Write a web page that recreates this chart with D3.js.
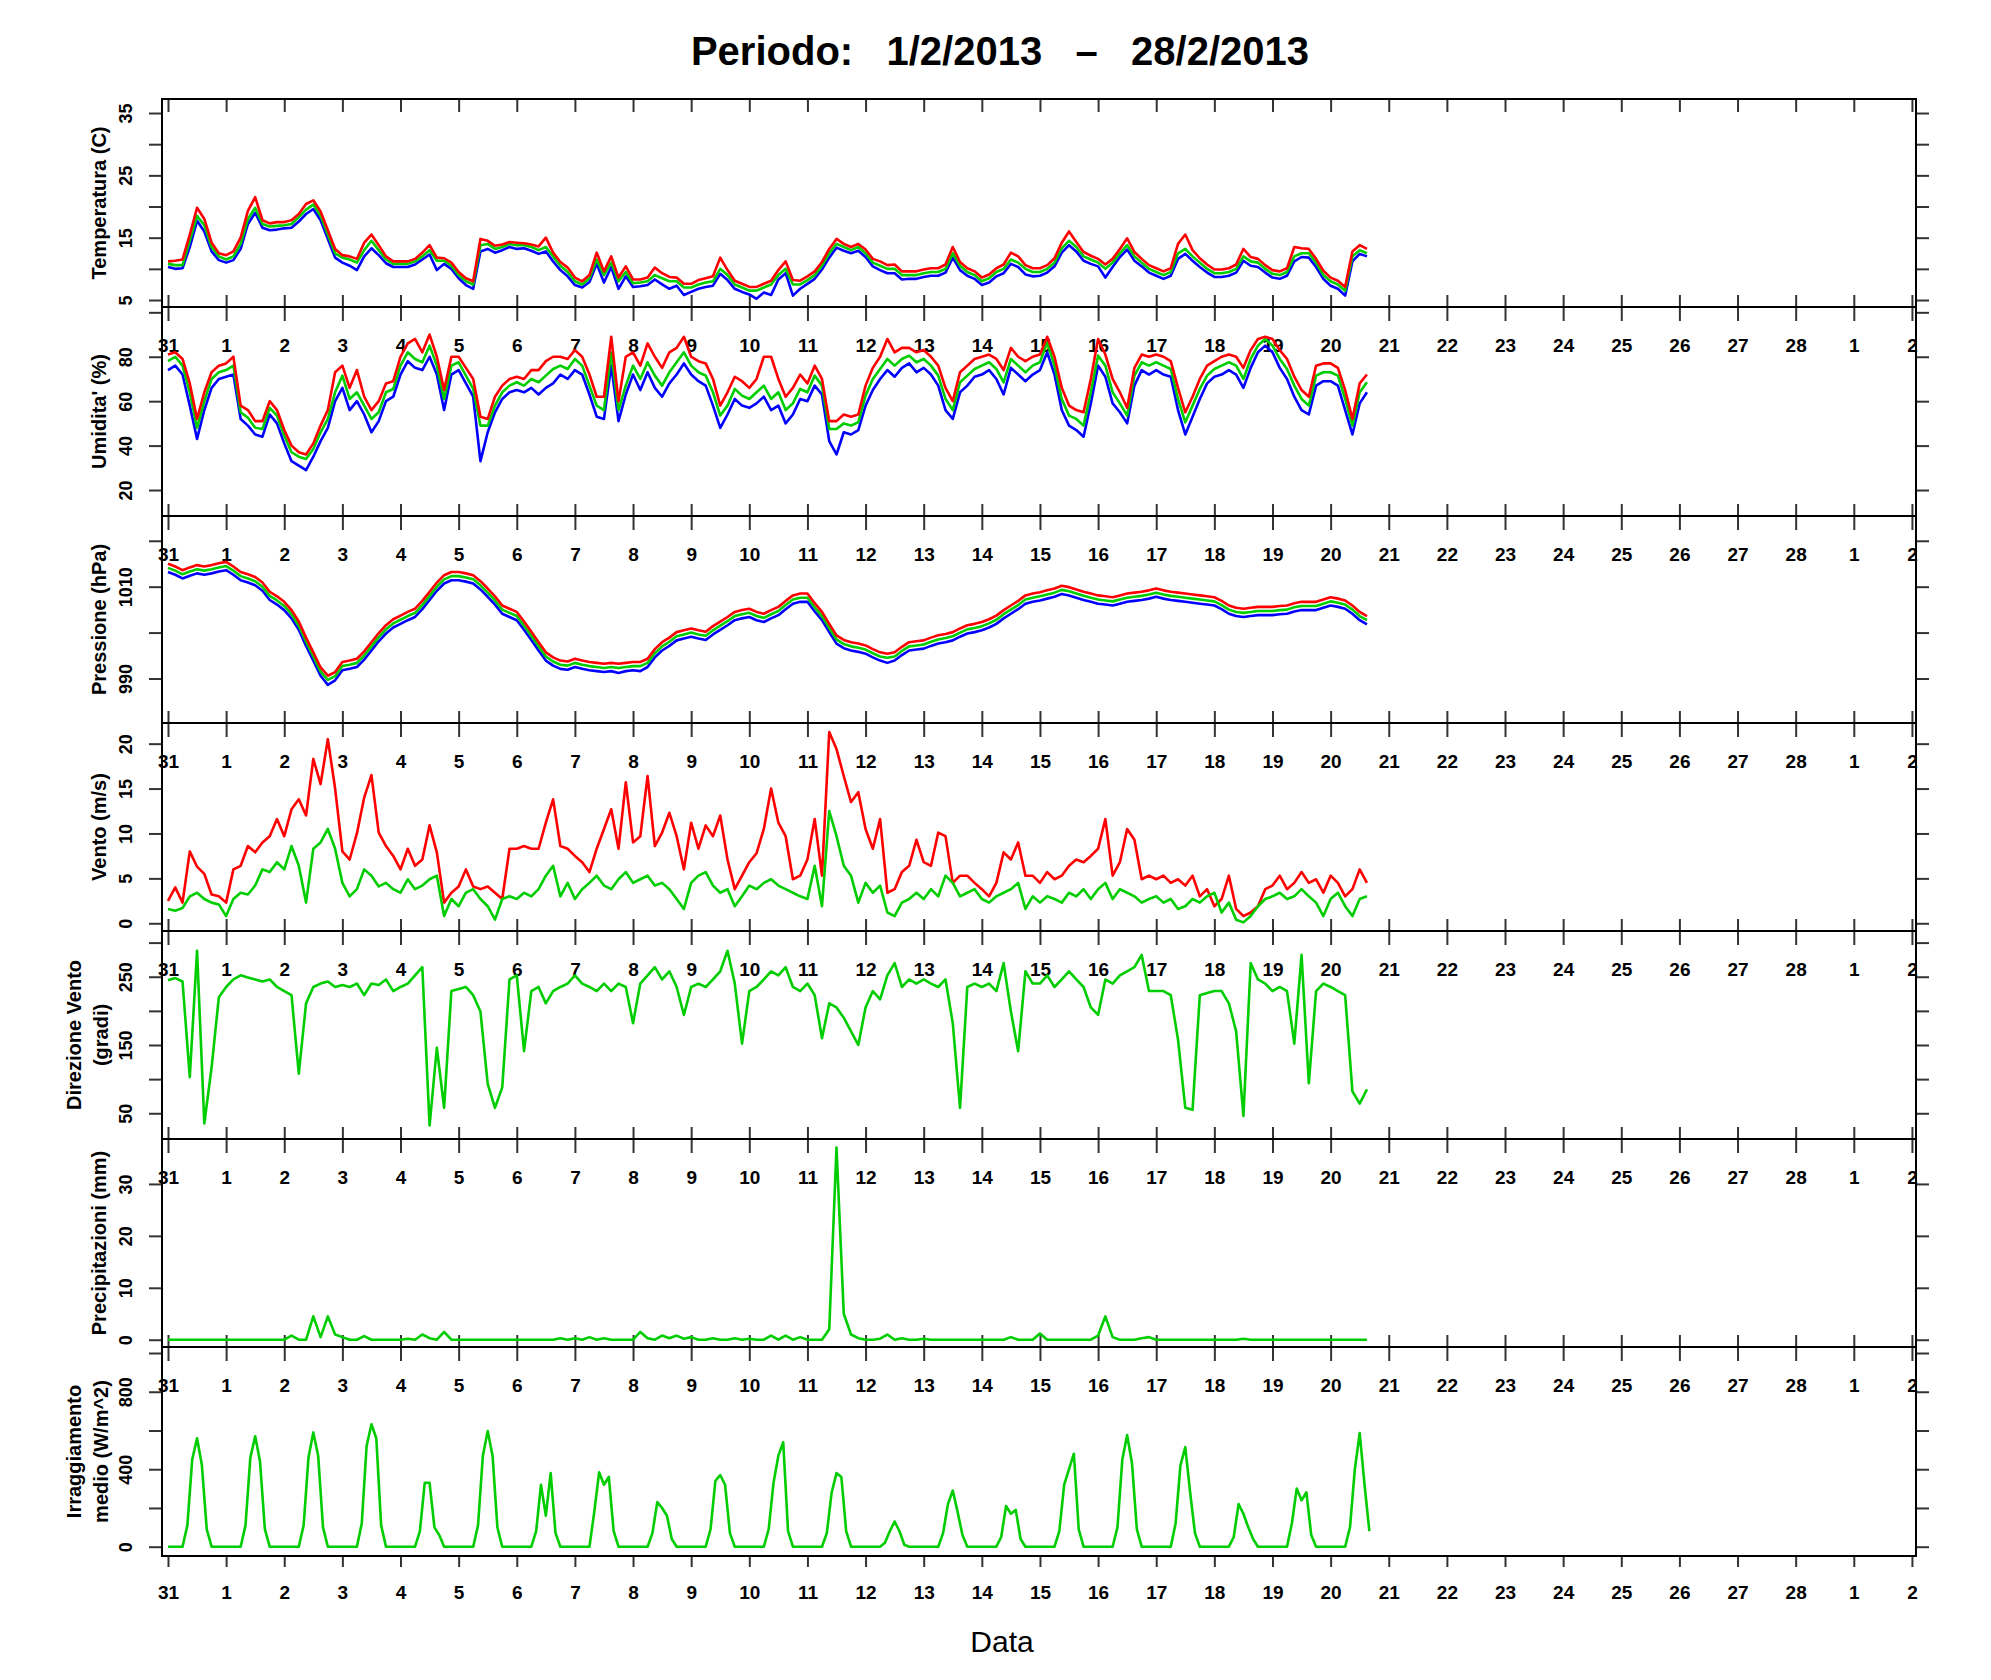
<!DOCTYPE html>
<html>
<head>
<meta charset="utf-8">
<script src="https://cdn.jsdelivr.net/npm/d3@7"></script>
<style>
body { margin: 0; background: #fff; }
text { font-family: "Liberation Sans", Arial, Helvetica, sans-serif; }
</style>
</head>
<body>
<script>
// giorni sull'asse x (31 gen -> 2 mar)
const dayLabels = ["31","1","2","3","4","5","6","7","8","9","10","11","12","13","14","15","16","17","18","19","20","21","22","23","24","25","26","27","28","1","2"];

// campioni ogni 3 ore a partire dal 31/1 00:00
const tempMax = [
 11.2,11.3,11.5,15.5,19.8,18,14.2,12.5,  12.2,12.8,15,19.3,21.5,17.8,17.3,17.5,
 17.5,17.8,18.8,20.4,21,19.2,16.2,13.2,  12.2,12,11.6,14.2,15.5,13.8,12,11.2,
 11.2,11.2,11.6,12.6,13.8,11.8,11.7,11,  9.5,8.5,8,14.8,14.5,13.7,13.9,14.3,
 14.2,14.1,13.9,13.6,15,12.6,11.1,10.2,  8.6,8,9,12.6,9.6,12,8.6,10.4,
 8.3,8.3,8.6,10.2,9.3,8.7,8.6,7.6,  7.6,8.2,8.5,8.8,11.8,9.8,8.1,7.6,
 7.1,7.1,7.6,8.1,9.8,11.2,8.2,8.1,  8.8,9.6,11.1,13.2,14.8,14,13.5,14,
 13.1,11.6,11.2,10.6,10.7,9.6,9.6,9.6,  9.9,10.1,10.1,10.7,13.5,11.1,10.1,9.6,
 8.6,9.1,10.1,10.7,12.6,12,10.6,10.1,  10.1,10.6,11.7,14.2,16,14.3,12.7,12.1,
 11.6,10.7,11.6,13.2,14.9,12.7,11.6,10.6,  10.1,9.6,10.1,14,15.5,13,11.7,10.7,
 9.9,9.9,10.1,10.7,13.2,11.9,11.6,10.6,  9.8,9.6,10.1,13.5,13.3,13.2,11.6,9.7,
 8.6,8.1,7.1,12.8,13.8,13.2
];
const tempMean = [
 10.8,10.6,10.6,14.5,18.5,17,13.5,12,  11.5,12,14,18,19.8,17.2,16.8,16.9,
 17,17.2,18.3,19.5,20.3,18.5,15.5,12.5,  11.8,11.5,11,13,14.5,13,11.5,10.8,
 10.8,10.8,11.2,12,13,11.3,11.3,10.5,  9,8,7.5,13.8,14,13.2,13.5,14,
 13.8,13.8,13.5,13,13.5,12,10.5,9.5,  8,7.5,8.5,11.5,9,11,8,9.5,
 7.7,7.8,8,9,8.5,8,8,7,  7,7.5,7.8,8,10,9,7.5,7,
 6.5,6.5,7,7.5,9,10,7.5,7.5,  8.2,9,10.5,12.5,14,13.5,13,13.5,
 12.5,11,10.5,10,10,9,9,9,  9.3,9.5,9.5,10,12.5,10.5,9.5,9,
 8,8.5,9.5,10,11.5,11,10,9.5,  9.5,10,11,13.3,14.5,13.5,12,11.5,
 11,10,11,12.5,13.8,12,11,10,  9.5,9,9.5,12.5,13.2,12,11,10,
 9.3,9.3,9.5,10,12,11.2,11,10,  9.2,9,9.5,12,12.5,12.5,11,9,
 8,7.5,6.5,12,13,12.5
];
const tempMin = [
 10.3,10,10.1,13.5,17.7,16,12.8,11.4,  11,11.4,13.2,17.2,19,16.6,16.2,16.3,
 16.5,16.6,17.6,18.8,19.6,17.8,14.8,11.8,  11,10.5,9.8,12,13.3,12.2,10.9,10.3,
 10.3,10.3,10.7,11.5,12.3,9.8,10.8,10,  8.5,7.4,6.8,12.8,13.2,12.6,13,13.5,
 13.2,13.3,12.9,12.4,12.8,11.2,9.8,8.8,  7.4,7,7.9,10.8,7.8,10.3,6.8,8.8,
 7.1,7.2,7.4,8.3,7.5,6.8,7.3,5.8,  6.3,6.8,7.1,7.3,9.2,8.2,6.8,6.3,
 5.9,5.2,6.2,5.8,8.3,9.3,5.7,6.8,  7.6,8.4,9.9,11.8,13.4,12.9,12.5,12.9,
 11.9,10.4,9.8,9.3,9.3,8.3,8.4,8.4,  8.7,8.9,8.9,9.4,11.8,9.8,8.9,8.4,
 7.4,7.8,8.8,9.3,10.8,10.3,9.1,8.8,  8.9,9.4,10.4,12.6,13.8,12.8,11.3,10.8,
 10.4,8.6,10.3,11.9,13.1,11.3,10.4,9.4,  8.9,8.4,8.9,11.6,12.4,11.3,10.3,9.4,
 8.7,8.7,8.9,9.4,11.3,10.5,10.3,9.4,  8.6,8.4,8.9,11.2,11.9,11.8,10.3,8.4,
 7.3,6.8,5.7,11.2,12.4,12
];

const humMax = [
 81,82,79,68,52,64,73,76,  77,80,58,56,51,51,60,56,
 47,40,37,36,41,49,56,73,  76,66,74,62,56,60,68,69,
 80,86,88,82,90,80,65,80,  80,75,70,53,52,62,67,70,
 71,70,74,74,78,80,80,79,  83,80,72,62,62,89,60,80,
 82,76,86,80,75,82,84,89,  80,78,77,70,58,64,71,69,
 66,70,80,80,70,62,66,72,  68,76,70,51,51,54,53,54,
 67,75,80,88,82,84,84,82,  83,80,76,66,60,73,76,79,
 80,81,79,74,84,80,78,80,  81,89,80,66,58,56,55,70,
 88,81,70,64,57,75,81,80,  81,80,78,66,55,62,70,76,
 78,80,81,80,75,83,88,89,  88,83,79,71,65,62,76,77,
 77,75,65,52,68,72
];
const humMean = [
 78,80,76,64,48,60,70,73,  74,76,55,52.5,48,47.5,57,53.5,
 44.5,37,35,34,38.5,46,52,64,  71.5,61,64,58,52,55,64,65.5,
 76,82,79,77.5,85,76,61,76,  77.5,71.5,65.5,49,49,58,64,67,
 68.5,67,70,68.5,71.5,74.5,76,74.5,  79,76,67,58,56,82,56,67,
 76,70,77.5,71.5,67,73,77.5,82,  76,73,71.5,64,53.5,58,65.5,62.5,
 61,64,67,61,64,56,59,65.5,  64,71.5,67,47.5,47.5,50,49,50.5,
 62.5,70,74.5,79,76,79,80.5,77.5,  79,76,71.5,61,56,68.5,71.5,74.5,
 76,77.5,74.5,68.5,79,76,73,76,  77.5,86.5,76,61,53.5,52,49,64,
 80.5,76,64,59,53.5,71.5,77.5,76,  77.5,76,74.5,61,50.5,58,65.5,71.5,
 74.5,76,77.5,76,70,79,85,88,  85,79,74.5,67,61,58,71.5,73,
 73,71.5,61,49,64,68.5
];
const humMin = [
 74,76,72,58,43,56,66,70,  71,72,52,49,45,44,54,50,
 41,33,31,29,35,42,48,60,  66,56,60,54,46,51,60,62,
 72,78,75,74,80,72,56,72,  74,68,62,33,46,55,61,64,
 65,64,66,63,66,68,72,70,  74,72,63,53,52,76,51,63,
 72,65,73,66,62,68,72,77,  72,69,67,58,48,54,61,58,
 57,59,62,56,58,50,54,61,  60,67,63,42,36,46,45,47,
 58,65,70,74,71,75,77,73,  75,72,67,56,52,64,67,71,
 72,74,70,63,75,72,69,72,  74,82,72,56,49,47,44,59,
 76,71,59,55,50,67,74,72,  74,72,71,56,45,53,61,68,
 71,72,74,72,66,75,82,85,  82,75,70,62,56,54,67,69,
 69,67,56,45,59,64
];

const presMax = [
 1015,1014.4,1013.6,1014.2,1014.7,1014.4,1014.7,1015.1,  1015.4,1014.4,1013.2,1012.7,1012.1,1010.9,1008.9,1007.9,
 1006.7,1004.9,1002.4,998.9,995.7,992.4,990.6,991.4,  993.6,993.9,994.3,995.9,997.9,999.9,1001.6,1002.9,
 1003.7,1004.5,1005.2,1006.9,1008.9,1010.9,1012.5,1013.2,  1013.2,1012.9,1012.5,1011.2,1009.6,1007.9,1005.9,1005.2,
 1004.5,1002.4,1000.2,997.9,995.7,994.6,993.9,993.7,  994.3,993.9,993.6,993.4,993.2,993.4,993.2,993.4,
 993.6,993.6,994.3,996.4,997.9,998.9,1000.1,1000.5,  1000.9,1000.5,1000.2,1001.4,1002.4,1003.4,1004.5,1004.9,
 1005.2,1004.5,1004.1,1004.9,1005.6,1006.9,1008.1,1008.5,  1008.5,1006.4,1004.5,1001.9,999.4,998.4,997.9,997.6,
 997.2,996.4,995.7,995.4,995.7,996.9,997.9,998.1,  998.3,998.9,999.4,999.7,1000.1,1000.9,1001.6,1001.9,
 1002.3,1002.9,1003.7,1004.9,1005.9,1006.9,1008.1,1008.5,  1008.8,1009.2,1009.6,1010.2,1009.9,1009.4,1008.9,1008.5,
 1008.1,1007.9,1007.7,1008.1,1008.5,1008.7,1008.9,1009.2,  1009.6,1009.2,1008.9,1008.7,1008.5,1008.3,1008.1,1007.9,
 1007.7,1006.9,1005.9,1005.4,1005.2,1005.4,1005.6,1005.6,  1005.6,1005.8,1005.9,1006.4,1006.7,1006.7,1006.7,1007.2,
 1007.7,1007.4,1007,1005.9,1004.5,1003.6
];
const presMean = [
 1014.1,1013.5,1012.7,1013.3,1013.8,1013.5,1013.8,1014.2,  1014.5,1013.5,1012.3,1011.8,1011.2,1010,1008,1007,
 1005.8,1004,1001.5,998,994.8,991.5,989.7,990.5,  992.7,993,993.4,995,997,999,1000.7,1002,
 1002.8,1003.6,1004.3,1006,1008,1010,1011.6,1012.3,  1012.3,1012,1011.6,1010.3,1008.7,1007,1005,1004.3,
 1003.6,1001.5,999.3,997,994.8,993.7,993,992.8,  993.4,993,992.7,992.5,992.3,992.5,992.3,992.5,
 992.7,992.7,993.4,995.5,997,998,999.2,999.6,  1000,999.6,999.3,1000.5,1001.5,1002.5,1003.6,1004,
 1004.3,1003.6,1003.2,1004,1004.7,1006,1007.2,1007.6,  1007.6,1005.5,1003.6,1001,998.5,997.5,997,996.7,
 996.3,995.5,994.8,994.5,994.8,996,997,997.2,  997.4,998,998.5,998.8,999.2,1000,1000.7,1001,
 1001.4,1002,1002.8,1004,1005,1006,1007.2,1007.6,  1007.9,1008.3,1008.7,1009.3,1009,1008.5,1008,1007.6,
 1007.2,1007,1006.8,1007.2,1007.6,1007.8,1008,1008.3,  1008.7,1008.3,1008,1007.8,1007.6,1007.4,1007.2,1007,
 1006.8,1006,1005,1004.5,1004.3,1004.5,1004.7,1004.7,  1004.7,1004.9,1005,1005.5,1005.8,1005.8,1005.8,1006.3,
 1006.8,1006.5,1006.1,1005,1003.6,1002.7
];
const presMin = [
 1013.2,1012.6,1011.8,1012.4,1012.9,1012.6,1012.9,1013.3,  1013.6,1012.6,1011.4,1010.9,1010.3,1009.1,1007.1,1006.1,
 1004.9,1003.1,1000.6,997.1,993.9,990.6,988.6,989.6,  991.8,992.1,992.5,994.1,996.1,998.1,999.8,1001.1,
 1001.9,1002.7,1003.4,1005.1,1007.1,1009.1,1010.7,1011.4,  1011.4,1011.1,1010.7,1009.4,1007.8,1006.1,1004.1,1003.4,
 1002.7,1000.6,998.4,996.1,993.9,992.8,992.1,991.9,  992.5,992.1,991.8,991.6,991.4,991.6,991.2,991.6,
 991.8,991.6,992.5,994.6,996.1,997.1,998.3,998.7,  999.1,998.7,998.4,999.6,1000.6,1001.6,1002.7,1003.1,
 1003.4,1002.7,1002.3,1003.1,1003.8,1005.1,1006.3,1006.7,  1006.7,1004.6,1002.7,1000.1,997.6,996.6,996.1,995.8,
 995.4,994.6,993.9,993.4,993.9,995.1,996.1,996.3,  996.5,997.1,997.6,997.9,998.3,999.1,999.8,1000.1,
 1000.5,1001.1,1001.9,1003.1,1004.1,1005.1,1006.3,1006.7,  1007,1007.4,1007.8,1008.4,1008.1,1007.6,1007.1,1006.7,
 1006.3,1006.1,1005.9,1006.3,1006.7,1006.9,1007.1,1007.4,  1007.8,1007.4,1007.1,1006.9,1006.7,1006.5,1006.3,1006.1,
 1005.9,1005.1,1004.1,1003.6,1003.4,1003.6,1003.8,1003.8,  1003.8,1004,1004.1,1004.6,1004.9,1004.9,1004.9,1005.4,
 1005.9,1005.6,1005.2,1004.1,1002.7,1001.8
];

const windGust = [
 2.5,4,2.3,8,6.3,5.5,3.2,3,  2.3,6,6.4,8.6,7.9,9,9.7,11.6,
 9.7,12.7,13.8,12,18.3,15.5,20.5,15,  8,7.1,10,14,16.5,10.1,8.6,7.5,
 6,8.3,6.4,7.1,10.9,7.9,2.3,3.4,  4.1,6,4.1,3.8,4.1,3.4,2.7,8.3,
 8.3,8.6,8.3,8.3,11.2,13.8,8.6,8.3,  7.5,6.8,5.7,8.3,10.5,12.7,8.3,15.7,
 9,9.7,16.4,8.6,10.1,12.3,9.7,6,  11.2,8.3,10.9,9.7,12,7.1,3.8,5.3,
 6.8,7.8,10.5,15,11.2,9.7,4.9,5.3,  7.1,11.6,5.3,21.3,19.4,16.4,13.5,14.6,
 10.5,8.3,11.6,3.4,3.8,5.7,6.4,9.3,  6.8,6.4,10.1,9.7,4.5,5.3,5.3,4.5,
 3.8,3,4.5,7.9,7.1,9,5.3,5.3,  4.5,5.7,4.9,5.3,6.4,7.1,6.8,7.5,
 8.3,11.6,5.3,6.8,10.5,9.3,4.9,5.3,  4.9,5.3,4.5,4.9,4.2,5.3,3,3.8,
 1.9,2.7,5.3,1.6,0.8,1.2,1.9,3.8,  4.2,5.3,3.8,4.5,5.7,4.5,4.9,3.4,
 5.3,4.5,3,3.8,6,4.5
];
const windMean = [
 1.6,1.4,1.7,3,3.4,2.7,2.3,2.1,  0.8,2.7,3.4,3.2,4.2,6,5.7,6.8,
 6,8.6,6.4,2.3,8.3,9,10.5,8.3,  4.5,3,3.8,6,5.3,4.1,4.5,3.8,
 3.4,4.9,3.8,4.2,4.9,5.3,0.8,2.7,  1.9,3.4,3.8,2.7,1.9,0.4,2.7,3,
 2.7,3.4,3,3.8,5.3,6.4,3,4.5,  2.7,3.8,4.5,5.3,4.2,3.8,4.9,5.7,
 4.5,4.9,5.3,4.2,4.5,3.8,2.7,1.6,  4.5,5.3,5.7,4.2,3.4,3.8,1.9,3,
 4.2,3.8,4.5,4.9,4.2,3.8,3.4,3,  2.7,6.4,1.9,12.5,9.7,6.4,5.3,2.3,
 4.5,3.4,4.2,1.2,0.8,2.3,2.7,3.4,  2.7,3.8,3,5.3,4.5,3,3.4,3.8,
 2.7,2.3,3,3.4,3.8,4.5,1.6,3,  2.3,3,2.7,2.3,3.4,3,3.8,2.7,
 3.8,4.5,2.7,3.8,3.4,3,2.3,2.7,  3,2.3,2.7,1.6,1.9,2.7,2.3,3,
 3.4,1.2,2.3,0.4,0.1,0.8,1.9,2.7,  3,3.4,2.7,3,3.8,3,2.3,0.8,
 2.7,3.4,1.9,0.8,2.7,3
];

const windDir = [
 245,248,243,103,288,35,117,220,  235,246,252,249,246,243,246,235,
 229,223,108,211,235,240,243,235,  238,235,240,223,240,238,246,229,
 235,240,252,264,32,146,58,229,  232,235,223,199,93,58,88,246,
 252,141,229,235,211,229,235,240,  252,240,235,229,240,229,240,235,
 182,240,252,264,246,258,235,194,  235,240,235,246,258,288,240,152,
 229,235,246,258,252,264,235,229,  240,223,160,211,205,190,170,150,
 205,229,217,252,270,235,246,240,  246,240,235,246,182,58,235,240,
 235,240,229,270,199,141,258,240,  240,252,235,246,258,246,235,205,
 194,246,240,252,258,264,282,229,  229,229,223,158,58,55,223,226,
 229,229,211,170,46,270,246,240,  229,235,229,152,282,94,229,240,
 235,229,223,82,64,85
];

const rain = [
 0,0,0,0,0,0,0,0,  0,0,0,0,0,0,0,0,
 0,0.8,0,0,4.5,0.5,4.5,1,  0.5,0,0,0.7,0,0,0,0,
 0,0.2,0,1,0.3,0,1.5,0,  0,0,0,0,0,0,0,0,
 0,0,0,0,0,0,0.3,0,  0.3,0,0.5,0,0.3,0,0,0,
 0,1.5,0.3,0,0.8,0.3,0.8,0.2,  0.5,0,0,0.3,0,0,0.3,0,
 0.2,0,0,0.8,0,0.8,0,0.5,  0,0,0,2,37,5,1,0.3,
 0,0,0.2,1,0,0.3,0,0,  0.2,0,0,0,0,0,0,0,
 0,0,0,0,0.5,0,0,0,  1.2,0,0,0,0,0,0,0,
 0.8,4.5,0.5,0,0,0,0.3,0.5,  0,0,0,0,0,0,0,0,
 0,0,0,0,0.2,0,0,0,  0,0,0,0,0,0,0,0,
 0,0,0,0,0,0
];

// irraggiamento: campioni ogni 2 ore
const radiation = [
 0,0,0,0,110,450,560,420,90,0,0,0,
 0,0,0,0,110,460,570,440,90,0,0,0,
 0,0,0,0,110,460,590,470,100,0,0,0,
 0,0,0,0,120,520,632,560,110,0,0,0,
 0,0,0,0,80,330,330,100,60,0,0,0,
 0,0,0,0,110,470,597,470,100,0,0,0,
 0,0,0,0,80,320,160,380,70,0,0,0,
 0,0,0,0,180,384,320,360,80,0,0,0,
 0,0,0,0,70,230,200,160,40,0,0,0,
 0,0,0,0,90,340,370,320,70,0,0,0,
 0,0,0,0,90,330,470,540,80,0,0,0,
 0,0,0,0,70,280,380,360,80,0,0,0,
 0,0,0,0,20,80,130,80,10,0,0,0,
 0,0,0,0,70,220,290,180,60,0,0,0,
 0,0,0,0,50,210,170,190,40,0,0,0,
 0,0,0,0,80,320,400,480,90,0,0,0,
 0,0,0,0,100,450,576,430,90,0,0,0,
 0,0,0,0,120,420,514,280,70,0,0,0,
 0,0,0,0,50,220,170,100,40,0,0,0,
 0,0,0,0,120,300,240,280,60,0,0,0,
 0,0,0,0,100,400,587,320,80
];

const RED = '#ff0000', GREEN = '#00cd00', BLUE = '#0000ff';

const panels = [
  { title: ['Temperatura (C)'], domain: [3.88, 37.25], ticks: [5,10,15,20,25,30,35], labels: [5,15,25,35],
    series: [[tempMin, BLUE], [tempMean, GREEN], [tempMax, RED]], step: 3 },
  { title: ["Umidita' (%)"], domain: [8.3, 102.4], ticks: [20,40,60,80,100], labels: [20,40,60,80],
    series: [[humMin, BLUE], [humMean, GREEN], [humMax, RED]], step: 3 },
  { title: ['Pressione (hPa)'], domain: [980.3, 1025.4], ticks: [990,1000,1010,1020], labels: [990,1010],
    series: [[presMin, BLUE], [presMean, GREEN], [presMax, RED]], step: 3 },
  { title: ['Vento (m/s)'], domain: [-0.86, 22.3], ticks: [0,5,10,15,20], labels: [0,5,10,15,20],
    series: [[windGust, RED], [windMean, GREEN]], step: 3 },
  { title: ['Direzione Vento', '(gradi)'], domain: [12.3, 317], ticks: [50,100,150,200,250,300], labels: [50,150,250],
    series: [[windDir, GREEN]], step: 3 },
  { title: ['Precipitazioni (mm)'], domain: [-1.4, 38.65], ticks: [0,10,20,30], labels: [0,10,20,30],
    series: [[rain, GREEN]], step: 3 },
  { title: ['Irraggiamento', 'medio (W/m^2)'], domain: [-48, 1031], ticks: [0,200,400,600,800,1000], labels: [0,400,800],
    series: [[radiation, GREEN]], step: 2 }
];

const W = 1991, H = 1680;
const left = 162, right = 1916;
const edges = [99, 307, 516, 723, 931, 1139, 1347, 1556];

const svg = d3.select('body').append('svg')
    .attr('width', W)
    .attr('height', H);

// giorni dal 31/1 00:00
const x = d3.scaleLinear().domain([-0.103, 30.07]).range([left, right]);
const dayIdx = d3.range(dayLabels.length);

function styleAxis(g, size) {
  g.select('.domain').remove();
  g.selectAll('.tick line').attr('stroke', '#333').attr('stroke-width', 2);
  g.selectAll('.tick text')
    .attr('fill', '#000')
    .attr('font-size', size)
    .attr('font-weight', 'bold')
    .attr('font-family', '"Liberation Sans", Arial, sans-serif');
}

const axesLayer = svg.append('g');
const dataLayer = svg.append('g');
const frameLayer = svg.append('g');

panels.forEach((p, k) => {
  const top = edges[k], bottom = edges[k + 1];
  const y = d3.scaleLinear().domain(p.domain).range([bottom, top]);

  // asse y sinistro, etichette ruotate
  const gl = axesLayer.append('g')
      .attr('transform', `translate(${left},0)`)
      .call(d3.axisLeft(y).tickValues(p.ticks).tickSize(13)
              .tickFormat(d => p.labels.includes(d) ? d : ''));
  styleAxis(gl, 18);
  gl.selectAll('.tick text')
      .attr('transform', 'rotate(-90)')
      .attr('x', 0)
      .attr('y', -30)
      .attr('dy', null)
      .attr('text-anchor', 'middle');

  // asse y destro senza etichette
  const gr = axesLayer.append('g')
      .attr('transform', `translate(${right},0)`)
      .call(d3.axisRight(y).tickValues(p.ticks).tickSize(13).tickFormat(''));
  styleAxis(gr, 18);

  // titolo asse y
  const tx = p.title.length === 1 ? [106] : [81, 108];
  p.title.forEach((t, i) => {
    axesLayer.append('text')
      .attr('transform', `translate(${tx[i]},${(top + bottom) / 2}) rotate(-90)`)
      .attr('text-anchor', 'middle')
      .attr('font-size', 20)
      .attr('font-weight', 'bold')
      .text(t);
  });

  // serie
  const line = d3.line()
      .x((d, i) => x(i * p.step / 24))
      .y(d => y(d));
  p.series.forEach(([vals, col]) => {
    dataLayer.append('path')
      .datum(vals)
      .attr('fill', 'none')
      .attr('stroke', col)
      .attr('stroke-width', 2.6)
      .attr('stroke-linejoin', 'round')
      .attr('d', line);
  });

  frameLayer.append('rect')
      .attr('x', left).attr('y', top)
      .attr('width', right - left).attr('height', bottom - top)
      .attr('fill', 'none')
      .attr('stroke', '#000')
      .attr('stroke-width', 2);
});

// tacche dei giorni: in alto, fra i pannelli e in fondo
const gTop = axesLayer.append('g')
    .attr('transform', `translate(0,${edges[0]})`)
    .call(d3.axisBottom(x).tickValues(dayIdx).tickSize(13).tickFormat(''));
styleAxis(gTop, 18);

edges.slice(1, -1).forEach(b => {
  const g = axesLayer.append('g')
      .attr('transform', `translate(0,${b - 12})`)
      .call(d3.axisBottom(x).tickValues(dayIdx).tickSize(26).tickPadding(18)
              .tickFormat(i => dayLabels[i]));
  styleAxis(g, 19);
});

const gBot = axesLayer.append('g')
    .attr('transform', `translate(0,${edges[7]})`)
    .call(d3.axisBottom(x).tickValues(dayIdx).tickSize(11).tickPadding(19)
            .tickFormat(i => dayLabels[i]));
styleAxis(gBot, 19);

// titoli
svg.append('text')
    .attr('x', 1000)
    .attr('y', 65)
    .attr('text-anchor', 'middle')
    .attr('font-size', 40)
    .attr('font-weight', 'bold')
    .style('white-space', 'pre')
    .text('Periodo:   1/2/2013   \u2013   28/2/2013');

svg.append('text')
    .attr('x', 1002)
    .attr('y', 1652)
    .attr('text-anchor', 'middle')
    .attr('font-size', 30)
    .text('Data');
</script>
</body>
</html>
